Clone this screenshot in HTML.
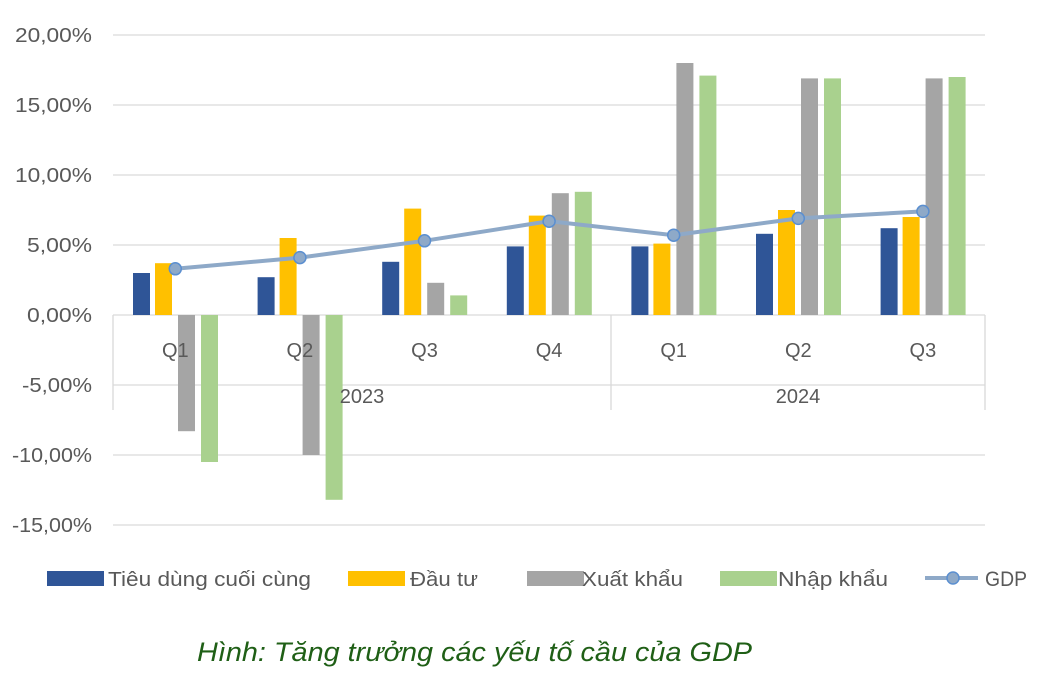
<!DOCTYPE html>
<html><head><meta charset="utf-8"><style>
body{margin:0;background:#fff}
svg{display:block;font-family:"Liberation Sans",sans-serif}
</style></head><body>
<svg id="c" width="1052" height="680" xmlns="http://www.w3.org/2000/svg">
<g id="grid" stroke="#d9d9d9" stroke-width="1.3"></g>
<g id="bars"></g>
<g id="lbl" fill="#595959" font-size="20"></g>
</svg>
<script>
const S="http://www.w3.org/2000/svg",svg=document.getElementById('c');
function el(t,a,p,txt){const e=document.createElementNS(S,t);for(const k in a)e.setAttribute(k,a[k]);if(txt!=null)e.textContent=txt;(p||svg).appendChild(e);return e;}
const g=document.getElementById('grid'),b=document.getElementById('bars'),l=document.getElementById('lbl');
const y=v=>315-v*14;
const yl=["20,00%","15,00%","10,00%","5,00%","0,00%","-5,00%","-10,00%","-15,00%"];
const yw=[77,77,77,65,65,70,80,80];
for(let i=0;i<8;i++){const v=20-5*i;el('line',{x1:113,x2:985,y1:y(v),y2:y(v)},g);
el('text',{x:92,y:y(v)+7,'text-anchor':'end',textLength:yw[i],lengthAdjust:'spacingAndGlyphs'},l,yl[i]);}
[113,611,985].forEach(x=>el('line',{x1:x,x2:x,y1:315,y2:410},g));
const d=[[3.0,3.7,-8.3,-10.5,3.3],[2.7,5.5,-10,-13.2,4.1],[3.8,7.6,2.3,1.4,5.3],[4.9,7.1,8.7,8.8,6.7],[4.9,5.1,18.0,17.1,5.7],[5.8,7.5,16.9,16.9,6.9],[6.2,7.0,16.9,17.0,7.4]];
const cols=["#2f5597","#ffc000","#a5a5a5","#a9d18e"],off=[20,42,65,88],cw=124.6;
const names=["Q1","Q2","Q3","Q4","Q1","Q2","Q3"];
names.forEach((n,i)=>el('text',{x:113+cw*i+cw/2,y:357,'text-anchor':'middle'},l,n));
el('text',{x:362,y:403,'text-anchor':'middle'},l,"2023");
el('text',{x:798,y:403,'text-anchor':'middle'},l,"2024");
let pts=[];
d.forEach((r,i)=>{const x0=113+cw*i;for(let k=0;k<4;k++){const v=r[k];el('rect',{x:x0+off[k],width:17,y:Math.min(y(v),315),height:Math.abs(v*14),fill:cols[k]},b);}
pts.push([x0+cw/2,y(r[4])]);});
el('polyline',{points:pts.map(p=>p.join(',')).join(' '),fill:'none',stroke:'#8ea9c8','stroke-width':4},b);
pts.forEach(p=>el('circle',{cx:p[0],cy:p[1],r:6,fill:'#8ea9c8',stroke:'#5b8fd0','stroke-width':1.5},b));
const lg=[[47,"Tiêu dùng cuối cùng",108,0,203],[348,"Đầu tư",410,1,68],[527,"Xuất khẩu",582,2,101],[720,"Nhập khẩu",778,3,110]];
lg.forEach(a=>{el('rect',{x:a[0],y:571,width:57,height:15,fill:cols[a[3]]},b);el('text',{x:a[2],y:586,textLength:a[4],lengthAdjust:'spacingAndGlyphs'},l,a[1]);});
el('line',{x1:925,x2:978,y1:578,y2:578,stroke:'#8ea9c8','stroke-width':4},b);
el('circle',{cx:953,cy:578,r:6,fill:'#8ea9c8',stroke:'#5b8fd0','stroke-width':1.5},b);
el('text',{x:985,y:586,'font-size':21,textLength:42,lengthAdjust:'spacingAndGlyphs'},l,"GDP");
el('text',{x:197,y:661,fill:'#1f5f16','font-size':27,'font-style':'italic',textLength:555,lengthAdjust:'spacingAndGlyphs'},svg,"Hình: Tăng trưởng các yếu tố cầu của GDP");
</script>
</body></html>
